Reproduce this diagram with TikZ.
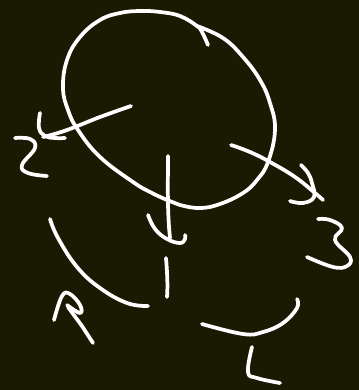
\documentclass[tikz,border=0pt]{standalone}
\definecolor{boardbg}{HTML}{1A1A03}
\tikzset{ink/.style={draw=white,line width=2.8pt,line cap=round,line join=round},
soft/.style={smooth,tension=0.7}}
\begin{document}
\begin{tikzpicture}[x=0.75pt,y=-0.75pt]
\fill[boardbg] (0,0) rectangle (359,390);
\useasboundingbox (0,0) rectangle (359,390);
% big loop
\draw[ink] plot[soft] coordinates {(208,45) (202,32) (197,26) (180,16) (160,12) (140,11) (120,13) (100,20) (80,37) (67,60) (63,88) (68,110) (78,130) (100,157) (133,182) (150,192) (167,200) (180,205) (200,208) (220,204) (243,193) (257,180) (268,162) (275,130) (270,103) (260,80) (243,57) (223,38) (197,26)};
% arrow to 2
\draw[ink] plot[soft] coordinates {(131,106) (100,117) (75,127) (58,133) (43,137)};
\draw[ink] plot[soft] coordinates {(40,113) (39,128) (45,136) (55,138) (65,138)};
% 2
\draw[ink] plot[soft] coordinates {(15,138) (30,139) (35,148) (22,165) (28,173) (47,176)};
% arrow to 1
\draw[ink] (168,156) .. controls (168,180) and (167,210) .. (170,238);
\draw[ink] plot[soft] coordinates {(148,215) (155,229) (167,239) (180,243) (185,239) (185,235)};
\draw[ink] (166,258) .. controls (167,270) and (168,285) .. (167,297);
% arrow to 3
\draw[ink] plot[soft] coordinates {(231,145) (250,152) (270,162) (295,177) (315,193) (323,200)};
\draw[ink] plot[soft] coordinates {(301,165) (308,173) (312,183) (314,197) (303,203) (290,201)};
% 3
\draw[ink] plot[soft] coordinates {(318,219) (330,220) (342,228) (335,240) (350,257) (347,266) (333,267) (307,257)};
% arc bottom left
\draw[ink] plot[soft] coordinates {(50,219) (58,238) (77,267) (100,288) (127,303) (148,306)};
% R arrow
\draw[ink] plot[soft] coordinates {(54,320) (62,296) (70,294) (80,305) (80,313) (67,305)};
\draw[ink] (68,307) -- (82,326) -- (93,343);
% arc bottom right
\draw[ink] plot[soft] coordinates {(297,299) (297,308) (283,323) (263,332) (243,334) (202,324)};
% L
\draw[ink] plot[soft] coordinates {(252,347) (248,372) (257,378) (280,383)};
\end{tikzpicture}
\end{document}
